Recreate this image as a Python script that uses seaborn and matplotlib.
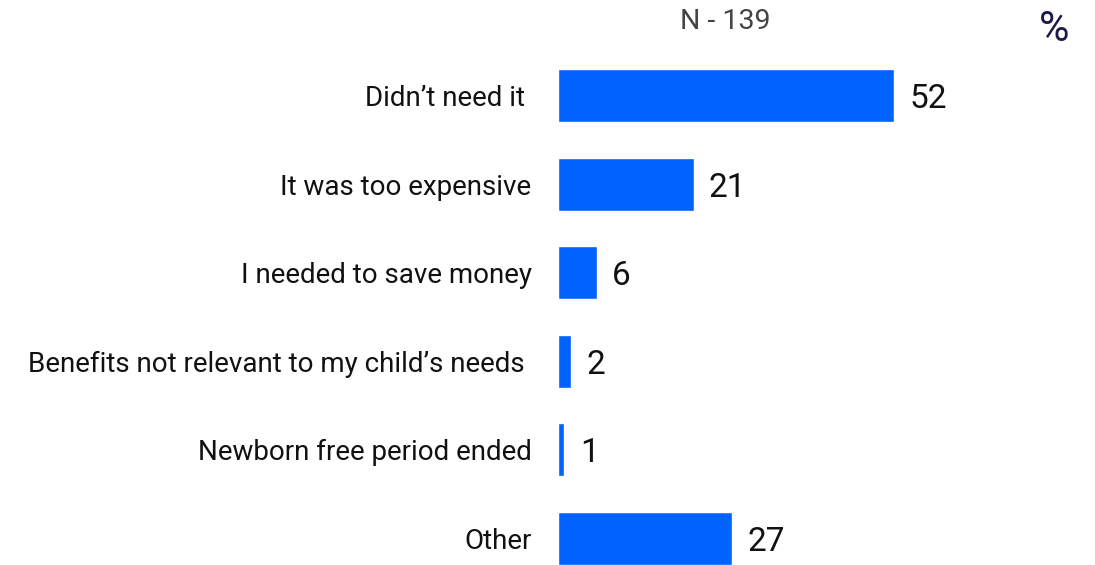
import pandas as pd
import matplotlib.pyplot as plt
import seaborn as sns

reasons = [
    "Didn\u2019t need it ",
    "It was too expensive",
    "I needed to save money",
    "Benefits not relevant to my child\u2019s needs ",
    "Newborn free period ended",
    "Other",
]
percents = [52, 21, 6, 2, 1, 27]

df = pd.DataFrame({"Reason": reasons, "Percent": percents})

sns.set_theme(style="white")
plt.rcParams["font.family"] = ["Roboto", "DejaVu Sans"]

fig = plt.figure(figsize=(10.95, 5.65), dpi=100)
ax = fig.add_axes([0.5096, 0.0, 0.472, 0.909])

sns.barplot(data=df, x="Percent", y="Reason", color="#0062ff",
            width=0.6, saturation=1, ax=ax)

ax.set_xlim(0, 80)
ax.set_ylim(5.3, -0.5)
ax.set_xlabel("")
ax.set_ylabel("")
ax.set_xticks([])
ax.tick_params(axis="y", length=0, pad=19, labelsize=20, labelcolor="#111111")
sns.despine(ax=ax, left=True, bottom=True)

for c in ax.containers:
    labels = ax.bar_label(c, fmt="%d", padding=11, fontsize=24, color="#111111")
    for t in labels:
        t.set_va("center_baseline")

fig.text(0.662, 0.962, "N - 139", fontsize=20.5, color="#444444",
         ha="center", va="center")
fig.text(0.963, 0.948, "%", fontsize=30, color="#1a1a4a",
         ha="center", va="center")

fig.savefig("out.png", dpi=100)
